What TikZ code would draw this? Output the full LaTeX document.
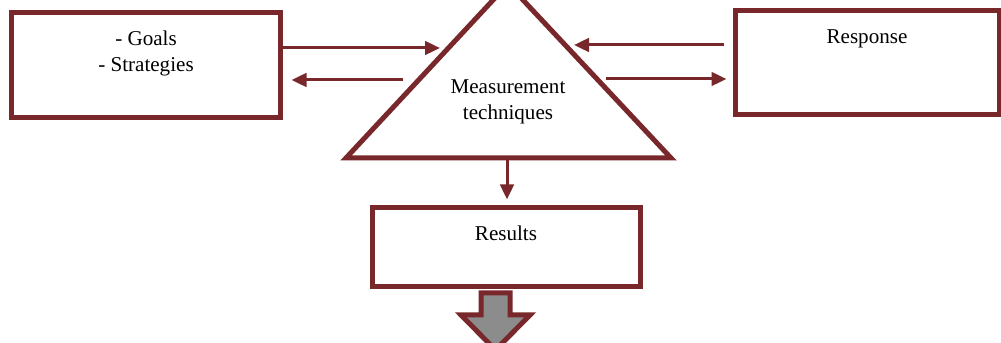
\documentclass[tikz,border=0pt]{standalone}
\usepackage{fontspec}
\setmainfont{Liberation Serif}
\usepackage{tikz}
\usetikzlibrary{%
  arrows.meta,%
  positioning,%
  calc%
}
\definecolor{boxred}{RGB}{120,40,42}
\definecolor{arrowgray}{RGB}{140,140,140}

\begin{document}
\begin{tikzpicture}[
    x=0.2mm, y=-0.2mm,
    box/.style={draw=boxred, line width=1mm, rectangle, inner sep=0pt},
    lbl/.style={inner sep=0pt, align=center, font=\fontsize{12}{15}\selectfont},
    arr/.style={draw=boxred, line width=0.6mm, -{Triangle[length=3mm,width=2.7mm]}}
]
    \useasboundingbox (0,0) rectangle (1001,343);
    \node[box, minimum width=53.6mm, minimum height=21mm] (goals) at (146,65.5) {};
    \node[lbl, below=4mm of goals.north] (goalstxt) {- Goals\\- Strategies};
    \node[box, minimum width=52.8mm, minimum height=20.9mm] (resp) at (867,62.75) {};
    \node[lbl, below=4.2mm of resp.north] (resptxt) {Response};
    \node[box, minimum width=53.6mm, minimum height=15.8mm] (results) at (506,247) {};
    \node[lbl, below=4.1mm of results.north] (resultstxt) {Results};
    % measurement triangle
    \coordinate (apex) at (508,-16);
    \coordinate (bl) at (346,158);
    \coordinate (br) at (671,158);
    \draw[boxred, line width=1mm, line join=miter] (apex) -- (bl) -- (br) -- cycle;
    \node[lbl] (meas) at (508,102) {Measurement\\techniques};
    % arrows
    \coordinate (lin) at (440,48);
    \coordinate (lout) at (403,80);
    \coordinate (rin) at (574,45);
    \coordinate (rout) at (606,79);
    \coordinate (tbase) at (507,158);
    \draw[arr] (goals.east |- lin) -- (lin);
    \draw[arr, shorten >=1.8mm] (lout) -- (goals.east |- lout);
    \draw[arr, shorten <=1.8mm] (resp.west |- rin) -- (rin);
    \draw[arr, shorten >=1.2mm] (rout) -- (resp.west |- rout);
    \draw[arr, shorten >=1.1mm] (tbase) -- (tbase |- results.north);
    % block arrow
    \draw[boxred, line width=1mm, fill=arrowgray, line join=miter]
        (481,293) -- (510,293) -- (510,315) -- (530,315) -- (495.5,350)
        -- (461,315) -- (481,315) -- cycle;
\end{tikzpicture}
\end{document}
